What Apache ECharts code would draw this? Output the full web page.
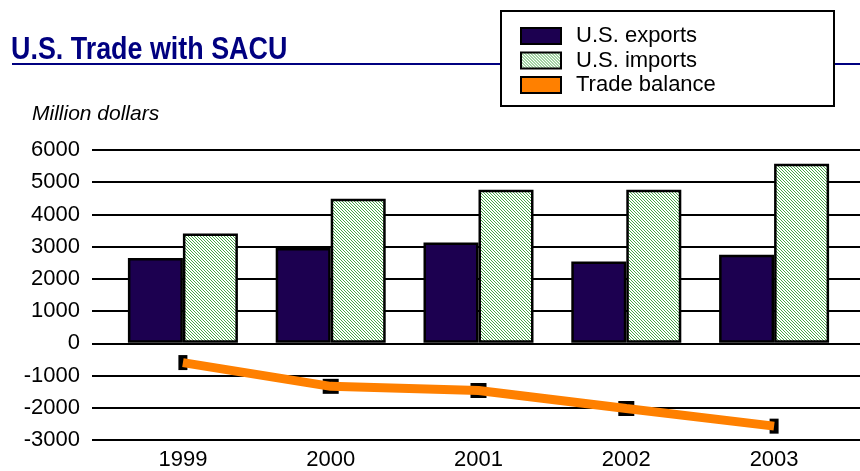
<!DOCTYPE html>
<html>
<head>
<meta charset="utf-8">
<script src="https://cdn.jsdelivr.net/npm/echarts@6/dist/echarts.min.js"></script>
<style>
  html, body { margin: 0; padding: 0; background: #fff; }
  #chart { width: 860px; height: 471px; }
</style>
</head>
<body>
<div id="chart"></div>
<script>
const years = ['1999', '2000', '2001', '2002', '2003']
const exportsData = [2640, 2950, 3120, 2530, 2740]
const importsData = [3400, 4480, 4760, 4760, 5570]
const balanceData = [-620, -1360, -1490, -2050, -2600]
const yTicks = { min: -3000, max: 6000, step: 1000 }

const sans = '"Liberation Sans", Arial, sans-serif'

// hatch fill for imports
function hatch () {
  const c = document.createElement('canvas')
  c.width = 3
  c.height = 3
  const ctx = c.getContext('2d')
  ctx.fillStyle = '#ffffff'
  ctx.fillRect(0, 0, 3, 3)
  ctx.fillStyle = '#46a846'
  for (let i = 0; i < 3; i++) ctx.fillRect(i, i, 1, 1)
  return c
}

const chart = echarts.init(document.getElementById('chart'))
const importFill = { image: hatch(), repeat: 'repeat' }

const option = {
  animation: false,
  graphic: [
    { type: 'line', z: 0, shape: { x1: 12, y1: 64, x2: 860, y2: 64 }, style: { stroke: '#000080', lineWidth: 2 } },
    {
      type: 'text', z: 1, x: 11, y: 34, scaleX: 0.84,
      style: { text: 'U.S. Trade with SACU', font: 'bold 32px ' + sans, fill: '#000080' }
    },
    { type: 'rect', z: 1, shape: { x: 501, y: 11, width: 333, height: 95 }, style: { fill: '#fff', stroke: '#000', lineWidth: 2 } },
    { type: 'text', z: 1, x: 32, y: 104, style: { text: 'Million dollars', font: 'italic 21px ' + sans, fill: '#000' } }
  ],
  legend: {
    orient: 'vertical',
    left: 520,
    top: 25,
    padding: 0,
    itemWidth: 40,
    itemHeight: 16,
    itemGap: 2.5,
    textStyle: { fontFamily: sans, fontSize: 22, color: '#000', padding: [0, 0, 0, 10] },
    data: [
      { name: 'U.S. exports', icon: 'rect' },
      { name: 'U.S. imports', icon: 'rect' },
      { name: 'Trade balance', icon: 'rect', itemStyle: { color: '#ff8000', borderColor: '#000', borderWidth: 2 } }
    ]
  },
  grid: [
    { left: 109, right: 12, top: 150, height: 290 },
    { left: 92, right: 0, top: 150, height: 290 }
  ],
  xAxis: [
    {
      type: 'category',
      gridIndex: 0,
      data: years,
      axisLine: { show: false },
      axisTick: { show: false },
      axisLabel: { fontFamily: sans, fontSize: 22, color: '#000', margin: 10 }
    },
    { type: 'value', gridIndex: 1, show: false, min: 0, max: 1 }
  ],
  yAxis: [
    {
      type: 'value',
      gridIndex: 0,
      min: yTicks.min,
      max: yTicks.max,
      interval: yTicks.step,
      axisLabel: { show: false },
      axisLine: { show: false },
      axisTick: { show: false },
      splitLine: { show: false }
    },
    {
      type: 'value',
      gridIndex: 1,
      min: yTicks.min,
      max: yTicks.max,
      interval: yTicks.step,
      axisLine: { show: false },
      axisTick: { show: false },
      axisLabel: { fontFamily: sans, fontSize: 22, color: '#000', margin: 12, formatter: v => String(v) },
      splitLine: { lineStyle: { color: '#000', width: 2 } }
    }
  ],
  series: [
    {
      name: 'U.S. exports',
      type: 'bar',
      barWidth: 55,
      barGap: '0%',
      data: exportsData,
      itemStyle: { color: '#1c0050', borderColor: '#000', borderWidth: 2.5 }
    },
    {
      name: 'U.S. imports',
      type: 'bar',
      barWidth: 55,
      barGap: '0%',
      data: importsData,
      itemStyle: { color: importFill, borderColor: '#000', borderWidth: 2.5 }
    },
    {
      name: 'balance markers',
      type: 'scatter',
      z: 3,
      data: balanceData,
      symbol: 'rect',
      symbolSize: (v, p) => (p.dataIndex === 0 || p.dataIndex === 4) ? [9, 15] : [16, 15],
      itemStyle: { color: '#000', opacity: 1 }
    },
    {
      name: 'Trade balance',
      type: 'line',
      z: 4,
      data: balanceData,
      showSymbol: false,
      color: '#ff8000',
      lineStyle: { color: '#ff8000', width: 9 }
    }
  ]
}

chart.setOption(option)
</script>
</body>
</html>
